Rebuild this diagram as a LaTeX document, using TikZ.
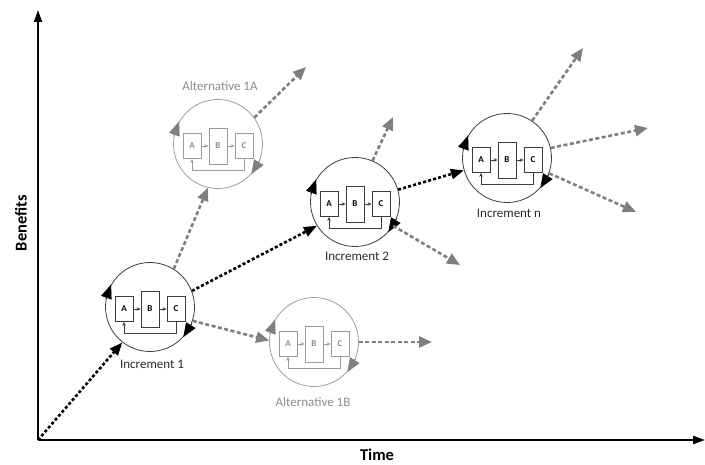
\documentclass[tikz,border=0pt]{standalone}
\usepackage{fontspec}
\setmainfont{Carlito}
\usetikzlibrary{arrows.meta,calc}

\definecolor{incline}{HTML}{3C3C3C}
\definecolor{inctext}{HTML}{2A2A2A}
\definecolor{altline}{HTML}{9C9C9C}
\definecolor{alttext}{HTML}{8C8C8C}
\definecolor{dashgray}{HTML}{7F7F7F}

\tikzset{
  unit/.style={circle, minimum size=89pt, inner sep=0pt, line width=0.8pt},
  blk/.style={rectangle, inner sep=0pt, minimum width=18pt, line width=0.8pt,
              fill=white, font=\fontsize{9}{10}\selectfont\bfseries},
  flow/.style={line width=0.7pt, -{Stealth[length=4pt,width=3.5pt]}},
  spin/.style={line width=0.6pt, -{Triangle[length=14pt,width=11pt]}},
  mainpath/.style={black, line width=2.6pt, dash pattern=on 3pt off 2.2pt,
                   -{Triangle[length=13pt,width=10pt]}},
  branch/.style={dashgray, line width=2.6pt, dash pattern=on 4pt off 2.5pt,
                 -{Triangle[length=13pt,width=11pt]}},
  axis/.style={line width=2pt, -{Triangle[length=12pt,width=8pt]}},
  caption/.style={font=\fontsize{13}{14}\selectfont},
  axislabel/.style={font=\fontsize{16.5}{18}\selectfont\bfseries, inner sep=1pt},
}

% One plan-do-check cycle: circle, three blocks A B C and the feedback loop.
% #1 name, #2 centre, #3 line colour, #4 letter colour, #5 rotation arrow colour
\newcommand\abcunit[5]{%
  \node[unit, draw=#3] (#1) at (#2) {};
  \node[blk, draw=#3, text=#4, minimum height=25pt] (#1-a) at ($(#1.center)+(-26,2)$) {A};
  \node[blk, draw=#3, text=#4, minimum height=36pt] (#1-b) at ($(#1.center)+(0,2)$) {B};
  \node[blk, draw=#3, text=#4, minimum height=25pt] (#1-c) at ($(#1.center)+(26,2)$) {C};
  \draw[flow, draw=#3] (#1-a) -- (#1-b);
  \draw[flow, draw=#3] (#1-b) -- (#1-c);
  \draw[flow, draw=#3] (#1-c.south) -- ++(0,11) -| (#1-a.south);
  \draw[spin, draw=#5] (#1.170) -- (#1.150);
  \draw[spin, draw=#5] (#1.-22) -- (#1.-42);
}

\begin{document}
\begin{tikzpicture}[x=1pt, y=-1pt]
  \useasboundingbox (0,0) rectangle (705,465);

  % axes
  \coordinate (o) at (38,440);
  \coordinate (ytop) at (38,10);
  \coordinate (xend) at (705,440);
  \draw[axis] (o) -- (ytop);
  \draw[axis] (o) -- (xend);
  \node[axislabel, rotate=90] (benefits) at (21,223) {Benefits};
  \node[axislabel] (time) at (377,455) {Time};

  % cycles
  \abcunit{inc1}{150,307}{incline}{black}{black}
  \abcunit{inc2}{355,202}{incline}{black}{black}
  \abcunit{incn}{507,158}{incline}{black}{black}
  \abcunit{alt1a}{218,144}{altline}{alttext}{dashgray}
  \abcunit{alt1b}{314,342}{altline}{alttext}{dashgray}

  % captions
  \node[caption, text=inctext] (inc1-cap) at (152,364) {Increment 1};
  \node[caption, text=inctext] (inc2-cap) at (357,256) {Increment 2};
  \node[caption, text=inctext] (incn-cap) at (509,213) {Increment n};
  \node[caption, text=alttext] (alt1a-cap) at (220,86) {Alternative 1A};
  \node[caption, text=alttext] (alt1b-cap) at (313,402) {Alternative 1B};

  % main path of increments
  \draw[mainpath] (o) -- (inc1.232);
  \draw[mainpath] (inc1.21) -- (inc2.212);
  \draw[mainpath] (inc2.16) -- (incn.196);

  % alternatives and open branches
  \draw[branch] (inc1.58) -- (alt1a.257);
  \draw[branch] (inc1.-18) -- (alt1b.178);

  \coordinate (a1a-out) at (306,67);
  \coordinate (a1b-out) at (432,342);
  \coordinate (i2-up) at (393,117);
  \coordinate (i2-down) at (460,265);
  \coordinate (in-up) at (583,48);
  \coordinate (in-right) at (648,128);
  \coordinate (in-down) at (636,212);

  \draw[branch] (alt1a.36) -- (a1a-out);
  \draw[branch] (alt1b.0) -- (a1b-out);
  \draw[branch] (inc2.67) -- (i2-up);
  \draw[branch] (inc2.-32) -- (i2-down);
  \draw[branch] (incn.56) -- (in-up);
  \draw[branch] (incn.13) -- (in-right);
  \draw[branch] (incn.-20) -- (in-down);
\end{tikzpicture}
\end{document}
